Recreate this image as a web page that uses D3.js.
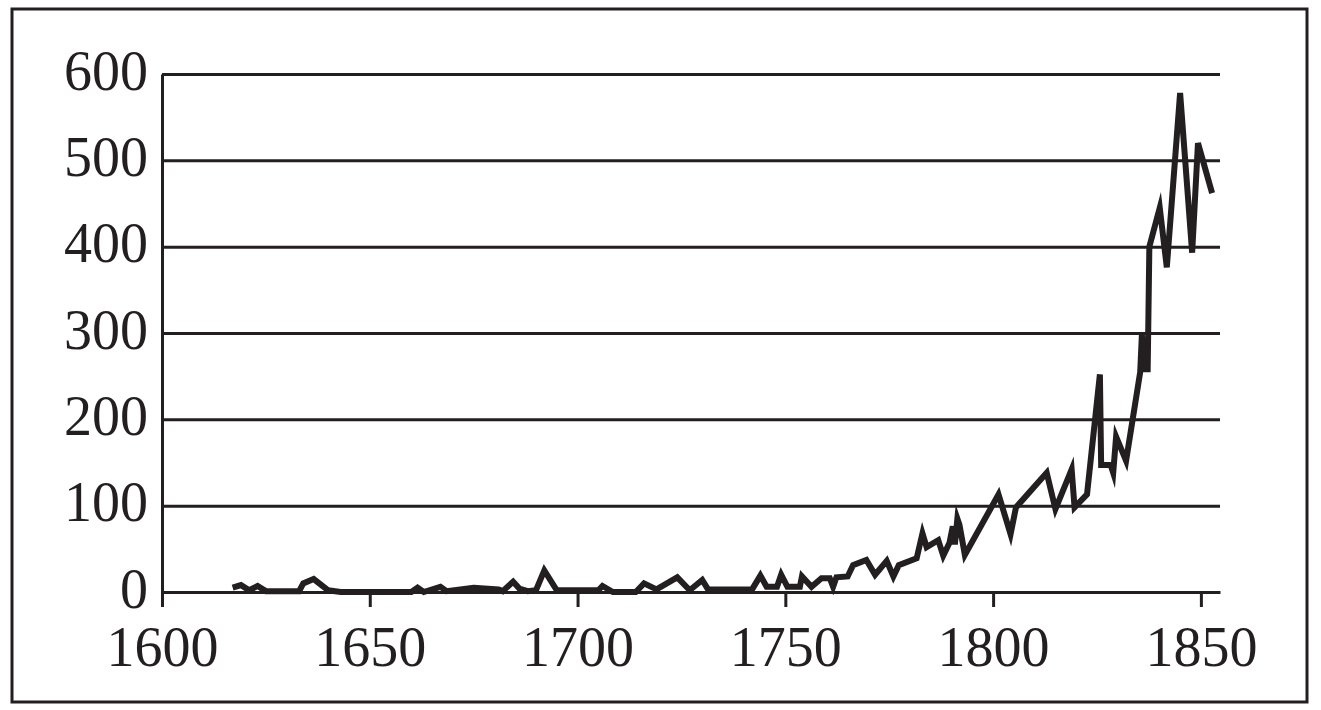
<!DOCTYPE html>
<html>
<head>
<meta charset="utf-8">
<script src="https://cdn.jsdelivr.net/npm/d3@7"></script>
<style>
  html, body { margin: 0; padding: 0; background: #fff; }
  svg { display: block; }
</style>
</head>
<body>
<svg id="chart" width="1321" height="710"></svg>
<script>
// Data
const years = [1617, 1619, 1621, 1623, 1625, 1633, 1634, 1636.5, 1640, 1643, 1660, 1661.5, 1663, 1667, 1668.5,
  1675, 1681, 1682, 1684.5, 1686, 1688, 1690, 1692, 1695, 1705, 1706, 1708.5, 1714, 1716, 1719, 1724, 1727,
  1730, 1731.4, 1742, 1744, 1745.5, 1748, 1749, 1750.5, 1753.5, 1754, 1756.3, 1758.7, 1760.7, 1761.5, 1762.3,
  1765, 1766.3, 1769.5, 1771.6, 1774.4, 1776, 1777.3, 1781.6, 1783, 1784, 1786.8, 1788, 1789.5, 1790.3, 1790.8,
  1791.4, 1791.9, 1793.2, 1801.3, 1804.2, 1805.5, 1812.9, 1815, 1818.9, 1819.6, 1822.6, 1825.7, 1826, 1828.3,
  1828.9, 1829.6, 1832, 1835.4, 1835.8, 1836.4, 1837.2, 1837.6, 1840.1, 1841.8, 1845, 1847.9, 1849.3, 1852.7];
const values = [5, 8, 2, 7, 1, 1, 10, 15, 2, 0, 0, 5, 0, 6, 1,
  5, 3, 1, 12, 4, 1, 2, 25, 2, 2, 7, 0, 0, 10, 3, 17, 2,
  14, 3, 3, 19, 6, 6, 20, 6, 6, 18, 6, 16, 16, 6, 17,
  18, 31, 37, 20, 36, 18, 31, 39, 68, 52, 60, 42, 57, 76, 55,
  85, 78, 43, 113, 67, 98, 138, 96, 142, 98, 113, 252, 147, 147,
  138, 180, 152, 255, 298, 258, 258, 400, 445, 376, 578, 393, 520, 462];
const xTicks = [1600, 1650, 1700, 1750, 1800, 1850];
const yTicks = [0, 100, 200, 300, 400, 500, 600];

const ink = "#231f20";
const svg = d3.select("#chart");

// outer frame
svg.append("rect")
  .attr("x", 12).attr("y", 9).attr("width", 1295).attr("height", 693)
  .attr("fill", "none").attr("stroke", ink).attr("stroke-width", 3);

const x = d3.scaleLinear().domain([1600, 1854.6]).range([162, 1220]);
const y = d3.scaleLinear().domain([0, 600]).range([592, 74]);

const font = "'Liberation Serif', 'Times New Roman', serif";

// y axis with gridlines
const gy = svg.append("g").attr("transform", "translate(162,0)")
  .call(d3.axisLeft(y).tickValues(yTicks).tickSize(-(1220 - 162)).tickSizeOuter(0).tickPadding(14));
gy.selectAll(".tick line").attr("stroke", ink).attr("stroke-width", 3);
gy.select(".domain").attr("stroke", ink).attr("stroke-width", 3);
gy.selectAll("text").attr("dy", 15).attr("fill", ink)
  .style("font-family", font).style("font-size", "56px");

// x axis
const gx = svg.append("g").attr("transform", "translate(0,592)")
  .call(d3.axisBottom(x).tickValues(xTicks).tickFormat(d3.format("d")).tickSize(15).tickSizeOuter(0));
gx.selectAll(".tick line").attr("stroke", ink).attr("stroke-width", 3);
gx.select(".domain").attr("stroke", ink).attr("stroke-width", 3);
gx.selectAll("text").attr("y", 74).attr("dy", 0).attr("fill", ink)
  .style("font-family", font).style("font-size", "56px");

// data line
const pts = years.map((yr, i) => [yr, values[i]]);
svg.append("path")
  .datum(pts)
  .attr("fill", "none")
  .attr("stroke", ink)
  .attr("stroke-width", 6)
  .attr("stroke-linejoin", "miter")
  .attr("stroke-miterlimit", 6)
  .attr("d", d3.line().x(d => x(d[0])).y(d => y(d[1])));
</script>
</body>
</html>
